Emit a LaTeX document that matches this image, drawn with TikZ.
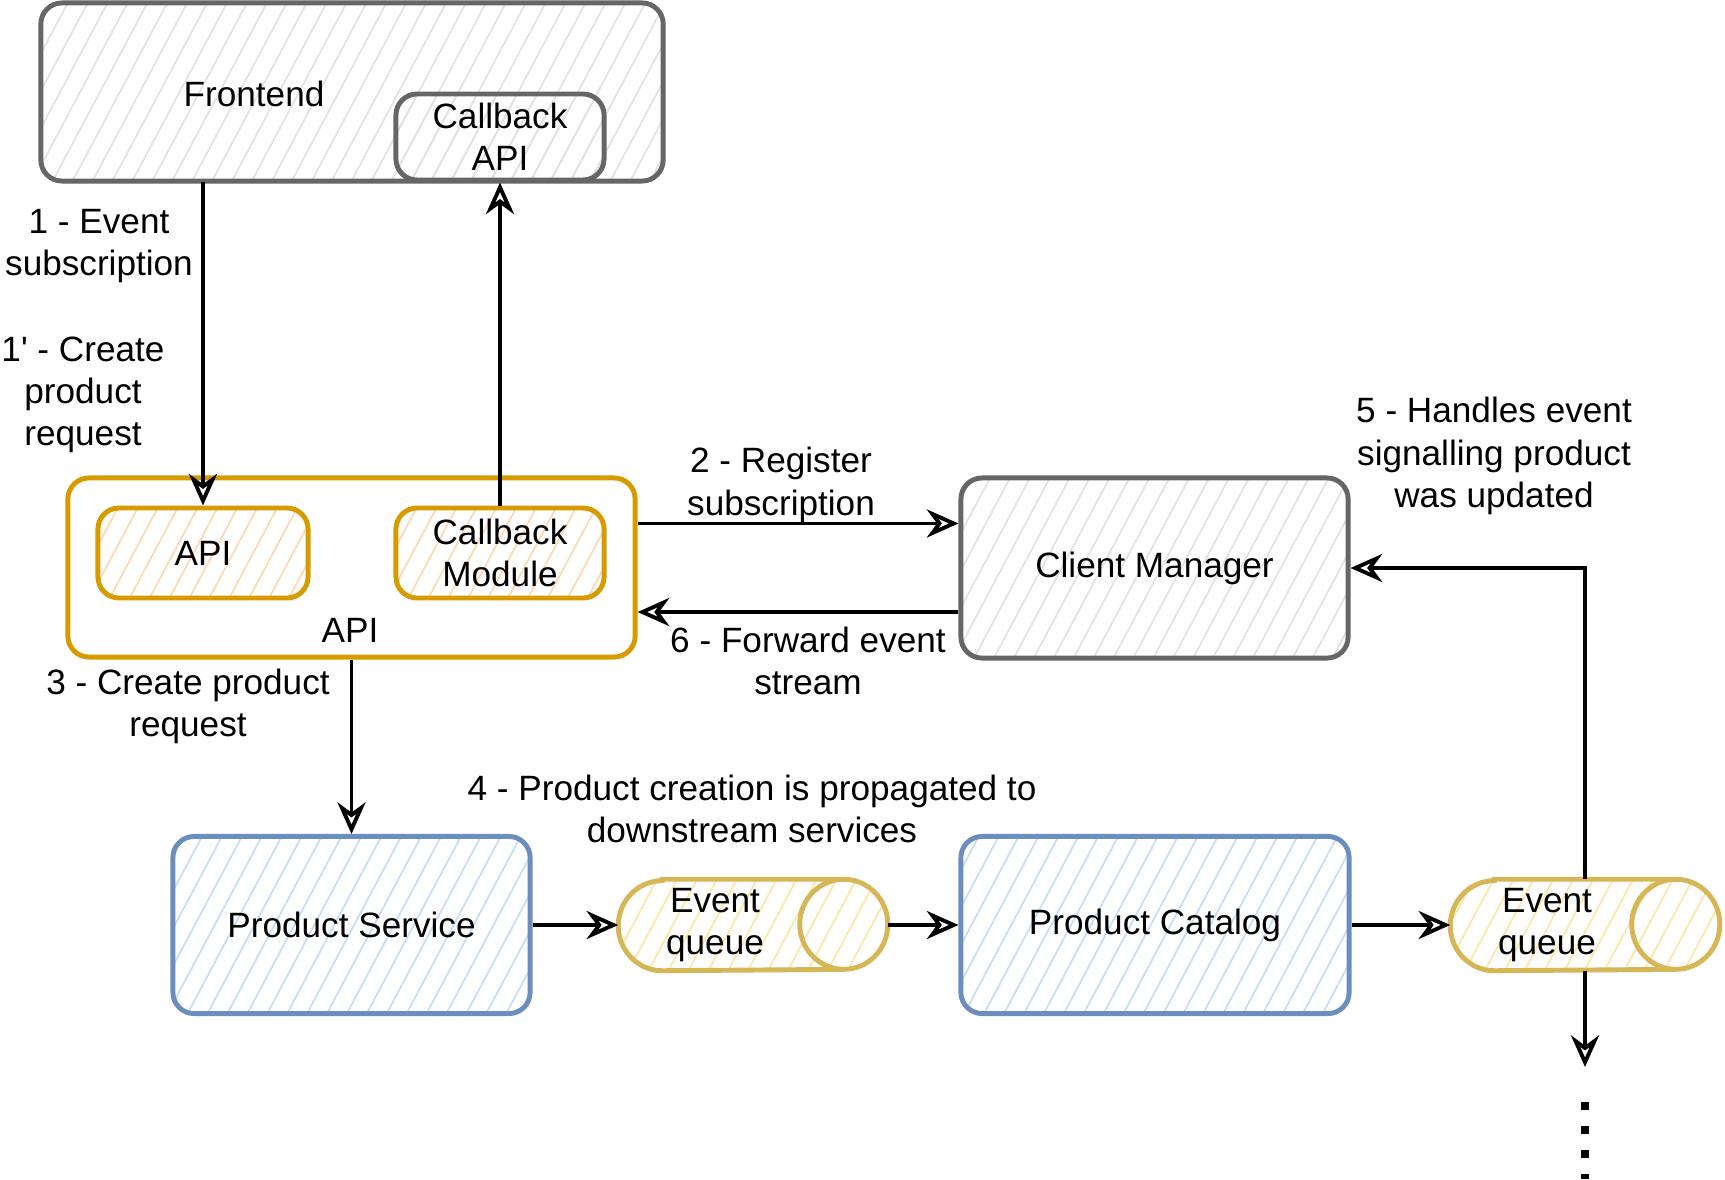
\documentclass[tikz,border=0pt]{standalone}
\usepackage{fontspec}
\setmainfont{Liberation Sans}
\usetikzlibrary{arrows.meta}
\usetikzlibrary{patterns.meta}

\definecolor{grayline}{HTML}{666666}
\definecolor{grayhatch}{HTML}{E2E2E2}
\definecolor{orangeline}{HTML}{D79B00}
\definecolor{orangehatch}{HTML}{FFD9B3}
\definecolor{blueline}{HTML}{6C8EBF}
\definecolor{bluehatch}{HTML}{C9DCF5}
\definecolor{yellowline}{HTML}{D6B656}
\definecolor{yellowhatch}{HTML}{FBE7A6}

\tikzset{
    hatch/.style={pattern={Lines[angle=62,distance=5pt,line width=0.5pt]}, pattern color=#1},
    box/.style={draw, rounded corners=6pt, line width=1.4pt, align=center, inner sep=0pt},
    graybox/.style={box, draw=grayline, hatch=grayhatch},
    orangebox/.style={box, draw=orangeline, hatch=orangehatch},
    bluebox/.style={box, draw=blueline, hatch=bluehatch},
    queue/.style={inner sep=0pt, minimum width=2.68cm, minimum height=0.9cm},
    tube/.style={draw=yellowline, line width=1.4pt},
    flow/.style={-{Stealth[open,length=9pt,width=8pt]}, line width=1.1pt},
    note/.style={align=center}
}

\begin{document}
\begin{tikzpicture}[x=0.01cm, y=-0.01cm, font=\fontsize{10}{12}\selectfont]

            \useasboundingbox (0,0) rectangle (1725,1179);

            \path   (352,92) node (fe) [graybox, minimum width=6.22cm, minimum height=1.78cm] {}
                    (254,94) node (fel) {Frontend}
                    (500,137) node (cba) [graybox, minimum width=2.08cm, minimum height=0.86cm] {Callback\\API}
                    (351.5,567.5) node (ao) [box, draw=orangeline, fill=white, minimum width=5.67cm, minimum height=1.79cm] {}
                    (350,630) node (aol) {API}
                    (203,553) node (api) [orangebox, minimum width=2.10cm, minimum height=0.90cm] {API}
                    (500,553) node (cbm) [orangebox, minimum width=2.08cm, minimum height=0.90cm] {Callback\\Module}
                    (1154.5,568) node (cm) [graybox, minimum width=3.87cm, minimum height=1.80cm] {Client Manager}
                    (351.5,925) node (ps) [bluebox, minimum width=3.57cm, minimum height=1.77cm] {Product Service}
                    (753,925) node (eqa) [queue] {}
                    (1155,925) node (pc) [bluebox, minimum width=3.88cm, minimum height=1.77cm] {Product Catalog}
                    (1585,925) node (eqb) [queue] {};

            % the two event queues, drawn as lying cylinders
            \foreach \q in {eqa,eqb} {
                \draw[tube, hatch=yellowhatch] ([xshift=0.44cm]\q.north west) -- ([xshift=-0.44cm]\q.north east)
                    arc[start angle=90, end angle=-90, x radius=0.44cm, y radius=0.45cm]
                    -- ([xshift=0.44cm]\q.south west)
                    arc[start angle=270, end angle=90, x radius=0.44cm, y radius=0.45cm] -- cycle;
                \draw[tube] ([xshift=-0.44cm]\q.north east)
                    arc[start angle=90, end angle=270, x radius=0.44cm, y radius=0.45cm];
            }
            \path   (715,925) node (eqal) [note] {Event\\queue}
                    (1547,925) node (eqbl) [note] {Event\\queue};

            % step labels
            \path   (99,246) node (s1) [note] {1 - Event\\subscription}
                    (83,395) node (s1b) [note] {1\textquotesingle{} - Create\\product\\request}
                    (781,485) node (s2) [note] {2 - Register\\subscription}
                    (808,661) node (s6) [note] {6 - Forward event\\stream}
                    (188,706) node (s3) [note] {3 - Create product\\request}
                    (752,809) node (s4) [note] {4 - Product creation is propagated to\\downstream services}
                    (1494,456) node (s5) [note] {5 - Handles event\\signalling product\\was updated};

            \coordinate (out) at (1585,1067);
            \coordinate (dota) at (1585,1102);
            \coordinate (dotb) at (1585,1179);

            \draw[flow] (api.north |- fe.south) -- (api.north);
            \draw[flow] (cbm.north) -- (cba.south);
            \draw[flow] ([yshift=0.44cm]ao.east) -- ([yshift=0.44cm]ao.east -| cm.west);
            \draw[flow] ([yshift=-0.44cm]cm.west) -- ([yshift=-0.44cm]cm.west -| ao.east);
            \draw[flow] (ao.south) -- (ps.north);
            \draw[flow] (ps.east) -- (eqa.west);
            \draw[flow] (eqa.east) -- (pc.west);
            \draw[flow] (pc.east) -- (eqb.west);
            \draw[flow] (eqb.north) |- (cm.east);
            \draw[flow] (eqb.south) -- (out);
            \draw[line width=2.4pt, dash pattern=on 2.2pt off 4.6pt] (dota) -- (dotb);

        \end{tikzpicture}
\end{document}
